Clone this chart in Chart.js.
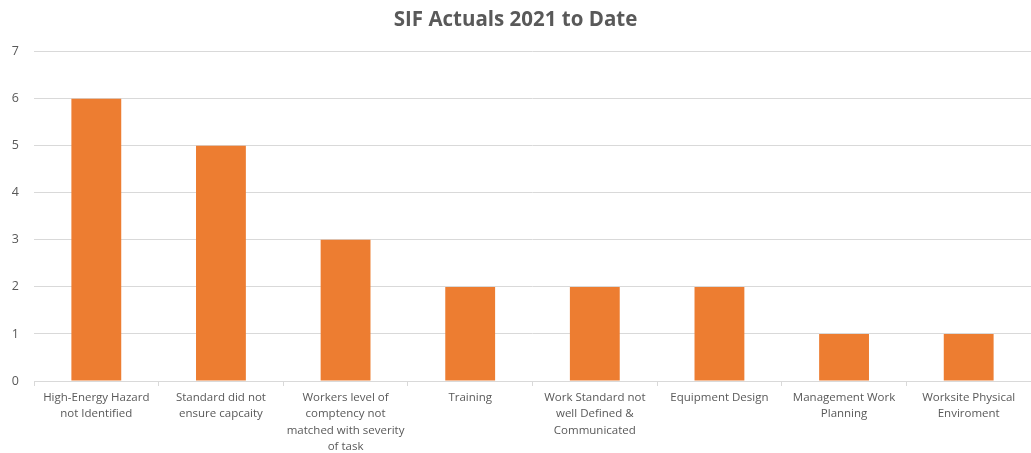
<!DOCTYPE html>
<html>
<head>
<meta charset="utf-8">
<script src="https://cdn.jsdelivr.net/npm/chart.js@4"></script>
<style>
  html, body { margin: 0; padding: 0; background: #fff; }
  #wrap { width: 1031px; height: 453px; }
</style>
</head>
<body>
<div id="wrap"><canvas id="sif"></canvas></div>
<script>
const categories = [
    ["High-Energy Hazard", "not Identified"],
    ["Standard did not", "ensure capcaity"],
    ["Workers level of", "comptency not", "matched with severity", "of task"],
    ["Training"],
    ["Work Standard not", "well Defined &", "Communicated"],
    ["Equipment Design"],
    ["Management Work", "Planning"],
    ["Worksite Physical", "Enviroment"]
];
const sifCounts = [6, 5, 3, 2, 2, 2, 1, 1];
const yTicks = [0, 1, 2, 3, 4, 5, 6, 7];

const textGrey = "#595959";
const lineGrey = "#d9d9d9";
const fontFamily = "'Open Sans', 'Liberation Sans', sans-serif";

window.onload = function() {
    var ctx = document.getElementById("sif").getContext("2d");
    new Chart(ctx, {
        type: "bar",
        data: {
            labels: categories,
            datasets: [{
                data: sifCounts,
                backgroundColor: "#ED7D31",
                borderWidth: 0,
                categoryPercentage: 1,
                barPercentage: 0.4
            }]
        },
        options: {
            responsive: true,
            maintainAspectRatio: false,
            animation: false,
            layout: { padding: { left: 0, right: 0, top: 0, bottom: 0 } },
            plugins: {
                legend: { display: false },
                tooltip: { enabled: false },
                title: {
                    display: true,
                    text: "SIF Actuals 2021 to Date",
                    color: textGrey,
                    font: { family: fontFamily, size: 20.5, weight: "bold" },
                    padding: { top: 8, bottom: 19 }
                }
            },
            scales: {
                x: {
                    offset: true,
                    grid: {
                        offset: true,
                        drawOnChartArea: false,
                        drawTicks: true,
                        tickLength: 5,
                        color: lineGrey
                    },
                    border: { color: lineGrey, width: 1 },
                    ticks: {
                        color: textGrey,
                        maxRotation: 0,
                        autoSkip: false,
                        padding: 4,
                        font: { family: fontFamily, size: 11.5, lineHeight: 1.4 }
                    },
                    afterFit: function(scale) { scale.height = 72; }
                },
                y: {
                    min: 0,
                    max: 7,
                    afterBuildTicks: function(scale) {
                        scale.ticks = yTicks.map(v => ({ value: v }));
                    },
                    grid: { color: lineGrey, drawTicks: false },
                    border: { display: false },
                    ticks: {
                        color: textGrey,
                        padding: 15,
                        font: { family: fontFamily, size: 12.5 }
                    },
                    afterFit: function(scale) { scale.width = 34; }
                }
            }
        }
    });
};
</script>
</body>
</html>
